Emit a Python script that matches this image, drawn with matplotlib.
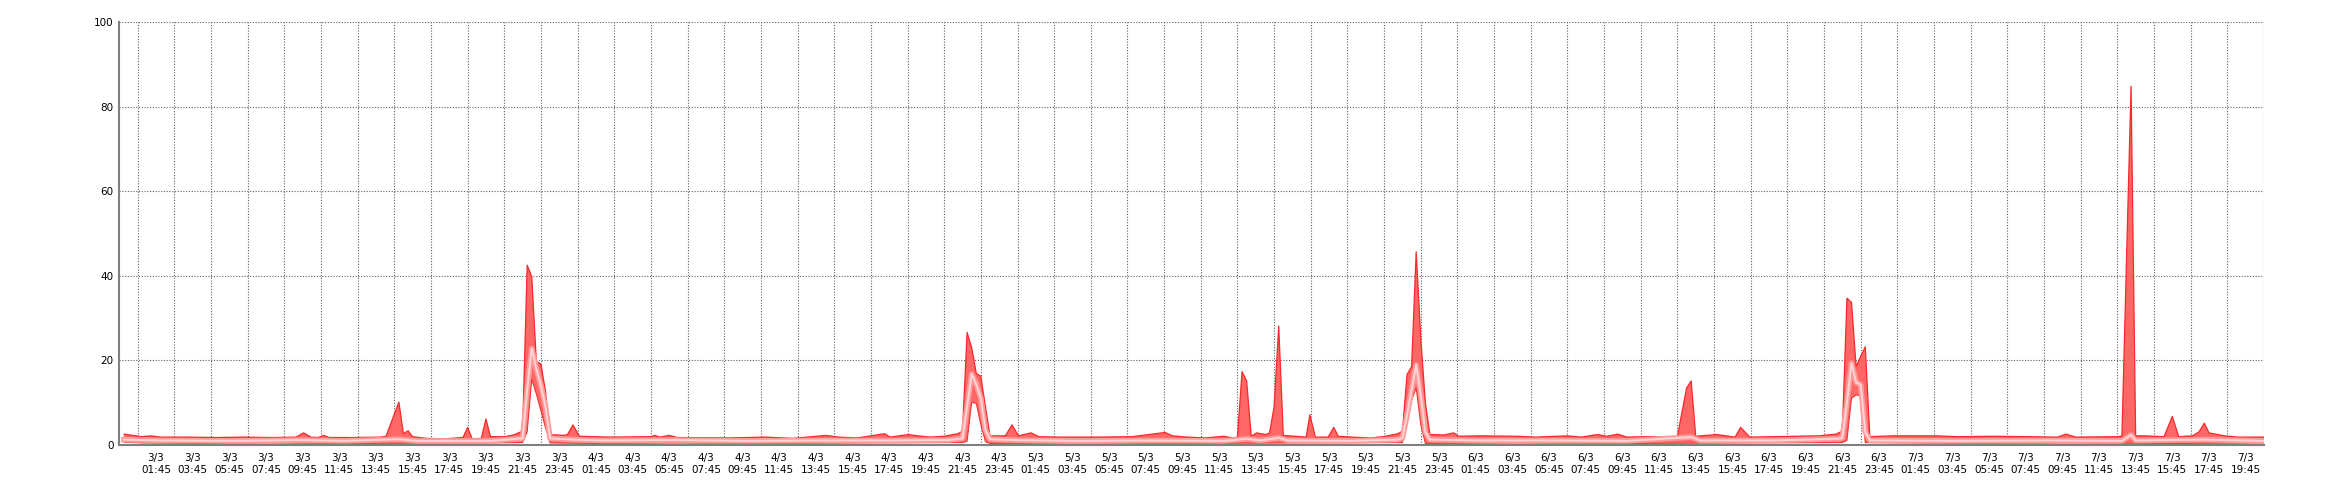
import matplotlib
matplotlib.use("Agg")
import matplotlib.pyplot as plt
import numpy as np
from matplotlib.ticker import FixedLocator, FuncFormatter

# hours after 3/3 00:00
max_hours = [0.0, 0.5, 1.0, 1.5, 2.0, 3.5, 5.0, 6.5, 8.0, 9.4, 9.8, 10.2, 10.6, 10.9, 11.2, 12.5,
             14.0, 14.3, 15.0, 15.25, 15.5, 15.75, 16.5, 17.5, 18.5, 18.75, 19.0, 19.5, 19.75, 20.0,
             20.75, 21.25, 21.75, 22.0, 22.25, 22.5, 22.75, 23.0, 23.25, 24.0, 24.2, 24.5, 24.85,
             26.5, 28.75, 28.95, 29.25, 29.75, 30.2, 33.0, 35.0, 36.5, 38.3, 39.0, 40.0, 41.5, 41.8,
             42.8, 43.3, 44.0, 44.75, 45.5, 45.75, 46.0, 46.25, 46.5, 46.75, 47.0, 47.25, 48.0, 48.1,
             48.45, 48.8, 49.5, 49.9, 51.0, 53.0, 55.0, 56.8, 57.2, 58.0, 59.0, 60.0, 60.5, 60.75,
             61.0, 61.25, 61.5, 61.8, 62.3, 62.5, 62.75, 63.0, 63.25, 63.6, 64.5, 64.7, 65.0, 65.7,
             66.0, 66.25, 67.0, 68.0, 68.7, 69.5, 69.75, 70.0, 70.25, 70.5, 70.75, 71.0, 71.25, 72.0,
             72.55, 72.8, 74.0, 76.0, 77.0, 78.75, 79.5, 80.4, 80.9, 81.5, 82.0, 83.0, 84.5, 84.75,
             85.25, 85.5, 85.75, 86.9, 87.9, 88.2, 88.7, 90.0, 91.0, 92.5, 93.4, 93.75, 94.0, 94.25,
             94.5, 94.75, 95.0, 95.25, 96.5, 98.9, 100.0, 102.0, 103.7, 105.5, 105.95, 106.5, 108.75,
             109.0, 109.5, 109.75, 110.2, 111.3, 111.75, 112.1, 112.85, 113.2, 113.5, 113.75, 114.6,
             115.3, 116.75]
max_values = [2.5, 2.2, 1.9, 2.1, 1.8, 1.8, 1.7, 1.8, 1.7, 1.8, 2.8, 1.8, 1.7, 2.2, 1.7, 1.7,
              1.8, 2.0, 10.1, 2.6, 3.3, 1.9, 1.5, 1.4, 1.7, 4.1, 1.4, 1.5, 6.1, 1.9,
              1.9, 2.3, 3.2, 42.5, 39.8, 19.7, 19.1, 12.6, 2.4, 2.2, 2.4, 4.7, 2.0,
              1.8, 1.9, 2.2, 1.8, 2.2, 1.7, 1.6, 1.8, 1.5, 2.2, 1.8, 1.6, 2.6, 1.8,
              2.4, 2.1, 1.8, 2.0, 2.6, 3.2, 26.6, 23.0, 16.9, 16.2, 9.0, 2.1, 2.1, 2.2,
              4.7, 2.1, 2.8, 1.9, 1.8, 1.8, 1.9, 2.9, 2.1, 1.8, 1.6, 2.0, 1.6, 1.8,
              17.3, 15.1, 2.0, 2.8, 2.4, 2.8, 9.0, 28.1, 2.2, 2.1, 1.8, 7.1, 1.8, 1.8,
              4.1, 2.0, 1.8, 1.6, 1.9, 2.6, 3.2, 16.6, 18.5, 45.7, 25.2, 10.0, 2.4, 2.3,
              2.8, 2.0, 2.1, 2.0, 1.8, 2.1, 1.8, 2.4, 2.0, 2.5, 1.8, 1.9, 1.8, 2.0,
              13.4, 15.1, 2.0, 2.4, 1.8, 4.1, 1.8, 1.9, 2.0, 2.1, 2.5, 3.2, 34.7, 33.7,
              18.5, 20.9, 23.2, 1.9, 2.1, 2.1, 1.9, 2.0, 1.9, 1.8, 2.5, 1.8, 1.9,
              2.0, 84.9, 2.1, 2.1, 1.9, 6.7, 1.9, 2.1, 3.0, 5.1, 2.8, 2.1,
              1.8, 1.8]

avg_hours = [0.0, 2.0, 6.0, 9.8, 12.0, 15.0, 16.0, 20.0, 21.75, 22.0, 22.25, 22.5, 22.75, 23.0,
             23.25, 24.5, 26.0, 30.0, 34.0, 38.0, 42.0, 45.0, 45.75, 46.0, 46.25, 46.5, 46.75, 47.0,
             47.25, 48.5, 52.0, 56.0, 60.0, 61.25, 62.0, 63.0, 63.5, 67.0, 69.5, 69.75, 70.0, 70.25,
             70.5, 70.75, 71.0, 71.25, 74.0, 78.0, 82.0, 85.5, 86.0, 90.0, 93.5, 93.75, 94.0, 94.25,
             94.5, 94.75, 95.0, 95.25, 100.0, 105.0, 109.0, 109.5, 109.75, 113.5, 116.75]
avg_values = [1.2, 1.0, 0.9, 1.1, 0.9, 1.3, 0.9, 0.9, 1.5, 13.0, 22.8, 18.0, 14.0, 9.0,
              1.5, 1.2, 1.0, 1.1, 0.9, 1.0, 1.0, 1.1, 1.5, 9.0, 16.7, 14.3, 11.0, 3.5,
              1.3, 1.1, 0.9, 1.0, 0.9, 1.4, 1.0, 1.6, 1.0, 0.9, 1.2, 1.6, 7.0, 13.0,
              18.9, 11.8, 3.0, 1.2, 1.0, 1.0, 0.9, 1.8, 1.0, 1.0, 1.4, 1.6, 10.0, 19.3,
              14.8, 14.2, 3.0, 1.0, 0.9, 1.0, 0.9, 2.3, 1.0, 1.2, 0.9]

min_hours = [0.0, 1.0, 4.0, 8.0, 12.0, 16.0, 20.0, 21.75, 22.0, 22.25, 22.5, 22.75, 23.0, 23.25,
             26.0, 30.0, 35.0, 40.0, 45.75, 46.0, 46.25, 46.5, 46.75, 47.0, 47.25, 52.0, 58.0, 64.0,
             69.75, 70.0, 70.25, 70.5, 70.75, 71.0, 76.0, 82.0, 88.0, 93.75, 94.0, 94.25, 94.5,
             94.75, 95.0, 100.0, 106.0, 112.0, 116.75]
min_values = [0.6, 0.4, 0.3, 0.4, 0.3, 0.35, 0.4, 0.5, 3.0, 15.5, 12.0, 8.0, 4.0, 0.4,
              0.3, 0.4, 0.3, 0.4, 0.5, 0.8, 10.0, 9.8, 4.7, 0.7, 0.3, 0.4, 0.3, 0.4,
              0.5, 5.0, 10.5, 13.4, 4.7, 0.3, 0.4, 0.3, 0.4, 0.5, 1.0, 11.0, 11.8,
              11.5, 0.5, 0.3, 0.4, 0.3, 0.4]

y_ticks = [0, 20, 40, 60, 80, 100]


def hour_label(h, pos):
    day = 3 + int(h // 24)
    hh = int(h % 24)
    return "{}/3\n{:02d}:45".format(day, hh)


fig = plt.figure(figsize=(23.4, 5), dpi=100)
ax = fig.add_axes([0.051, 0.1106, 0.9165, 0.8444])

band_x = np.concatenate([max_hours, min_hours[::-1]])
band_y = np.concatenate([max_values, min_values[::-1]])
ax.fill(band_x, band_y, color="#ff6666", lw=0, zorder=2)
ax.plot(max_hours, max_values, color="#f52a2a", lw=0.9, zorder=3)
ax.plot(min_hours, min_values, color="#f52a2a", lw=0.7, zorder=3)
ax.plot(avg_hours, avg_values, color="#ff9a9a", lw=4, solid_joinstyle="round", zorder=4)
ax.plot(avg_hours, avg_values, color="#ffd4d4", lw=1.4, zorder=5)

ax.set_xlim(-0.25, 116.75)
ax.set_ylim(0, 100)

ax.xaxis.set_major_locator(FixedLocator(np.arange(1.75, 116, 2)))
ax.xaxis.set_minor_locator(FixedLocator(np.arange(0.75, 117, 1)))
ax.xaxis.set_major_formatter(FuncFormatter(hour_label))
ax.set_yticks(y_ticks)

ax.tick_params(axis="both", which="both", length=0, labelsize=7.5, labelcolor="#000000")
ax.tick_params(axis="x", pad=6)
ax.tick_params(axis="y", pad=4)

ax.set_axisbelow(True)
ax.grid(True, axis="x", which="minor", linestyle=(0, (1, 1.5)), color="#606060", lw=0.8)
ax.grid(True, axis="y", which="major", linestyle=(0, (1, 1.5)), color="#606060", lw=0.8)

for s in ["top", "right"]:
    ax.spines[s].set_visible(False)
for s in ["left", "bottom"]:
    ax.spines[s].set_color("#808080")
    ax.spines[s].set_linewidth(1.5)

fig.savefig("out.png", dpi=100)
